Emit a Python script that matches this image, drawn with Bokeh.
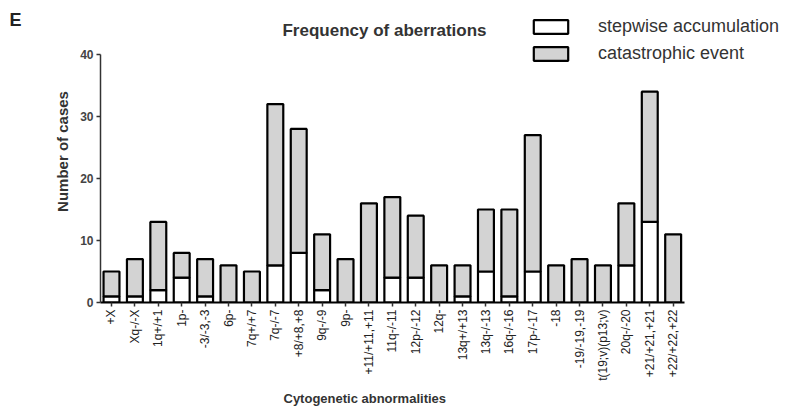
import math
from bokeh.plotting import figure
from bokeh.models import (ColumnDataSource, Range1d, Label, Legend, FixedTicker, LinearAxis, Title)
from bokeh.embed import file_html
from bokeh.resources import INLINE

categories = ["+X", "Xq-/-X", "1q+/+1", "1p-", "-3/-3,-3", "6p-", "7q+/+7", "7q-/-7",
              "+8/+8,+8", "9q-/-9", "9p-", "+11/+11,+11", "11q-/-11", "12p-/-12", "12q-",
              "13q+/+13", "13q-/-13", "16q-/-16", "17p-/-17", "-18", "-19/-19,-19",
              "t(19;v)(p13;v)", "20q-/-20", "+21/+21,+21", "+22/+22,+22"]
stepwise = [1, 1, 2, 4, 1, 0, 0, 6, 8, 2, 0, 0, 4, 4, 0, 1, 5, 1, 5, 0, 0, 0, 6, 13, 0]
catastrophic = [4, 6, 11, 4, 6, 6, 5, 26, 20, 9, 7, 16, 13, 10, 6, 5, 10, 14, 22, 6, 7, 6, 10, 21, 11]
y_ticks = [0, 10, 20, 30, 40]

idx = list(range(len(categories)))
source = ColumnDataSource(dict(x=idx, cat=categories, stepwise=stepwise, catastrophic=catastrophic))

font = "Liberation Sans"
p = figure(width=785, height=413, x_range=Range1d(-0.47, 28.80), y_range=Range1d(0, 48.71),
           output_backend="svg", toolbar_location=None,
           min_border_left=100, min_border_right=0, min_border_top=0, min_border_bottom=111)
p.outline_line_color = None
p.xgrid.visible = False
p.ygrid.visible = False

r = p.vbar_stack(["stepwise", "catastrophic"], x="x", width=0.68, source=source,
                 fill_color=["white", "#d3d3d3"], line_color="black", line_width=2.2)

legend = Legend(items=[("stepwise accumulation", [r[0]]), ("catastrophic event", [r[1]])],
                location=(429, 238), orientation="vertical", padding=0, margin=0,
                spacing=6, glyph_width=43, glyph_height=17, label_height=17,
                label_standoff=26, label_text_font=font, label_text_font_size="18px",
                label_text_color="#333333", border_line_alpha=0, background_fill_alpha=0)
p.add_layout(legend, "center")

# y axis
p.yaxis.ticker = FixedTicker(ticks=y_ticks)
p.yaxis.bounds = (0, 40)
p.yaxis.minor_tick_line_color = None
p.yaxis.axis_line_color = "#333333"
p.yaxis.axis_line_width = 1.5
p.yaxis.major_tick_line_color = "#333333"
p.yaxis.major_tick_line_width = 1.5
p.yaxis.major_tick_out = 4
p.yaxis.major_tick_in = 0
p.yaxis.major_label_standoff = 3
p.yaxis.major_label_text_font = font
p.yaxis.major_label_text_font_size = "12px"
p.yaxis.major_label_text_font_style = "bold"
p.yaxis.major_label_text_color = "#444444"
p.yaxis.axis_label = "Number of cases"
p.yaxis.axis_label_standoff = 6
p.yaxis.axis_label_text_font = font
p.yaxis.axis_label_text_font_size = "15px"
p.yaxis.axis_label_text_font_style = "bold"
p.yaxis.axis_label_text_color = "#333333"

# x axis
p.xaxis.ticker = FixedTicker(ticks=idx)
p.xaxis.major_label_overrides = {i: c for i, c in zip(idx, categories)}
p.xaxis.bounds = (-0.47, len(categories) - 0.53)
p.xaxis.axis_line_color = "black"
p.xaxis.axis_line_width = 2
p.xaxis.minor_tick_line_color = None
p.xaxis.major_tick_line_color = "#333333"
p.xaxis.major_tick_line_width = 1.5
p.xaxis.major_tick_out = 4
p.xaxis.major_tick_in = 0
p.xaxis.major_label_standoff = 3
p.xaxis.major_label_orientation = math.pi / 2
p.xaxis.major_label_text_font = font
p.xaxis.major_label_text_font_size = "12px"
p.xaxis.major_label_text_color = "#222222"

# x axis title
p.add_layout(Title(text="Cytogenetic abnormalities", align="left", offset=183, standoff=10,
                   text_font=font, text_font_size="13px", text_font_style="bold",
                   text_color="#333333"), "below")

# panel letter (label-only axis on the left)
et = LinearAxis(ticker=FixedTicker(ticks=[]), axis_line_color=None,
                major_tick_line_color=None, minor_tick_line_color=None,
                axis_label="E" + "\n" * 11, axis_label_standoff=30,
                axis_label_text_font=font, axis_label_text_font_size="18px",
                axis_label_text_font_style="bold", axis_label_text_color="#222222")
if "axis_label_orientation" in LinearAxis.properties():
    et.axis_label_orientation = "horizontal"
p.add_layout(et, "left")

p.add_layout(Label(x=284, y=272, x_units="screen", y_units="screen", text="Frequency of aberrations",
                   text_align="center", text_baseline="middle", text_font=font,
                   text_font_size="17px", text_font_style="bold", text_color="#333333"))

open("out.html", "w").write(file_html(p, INLINE))
